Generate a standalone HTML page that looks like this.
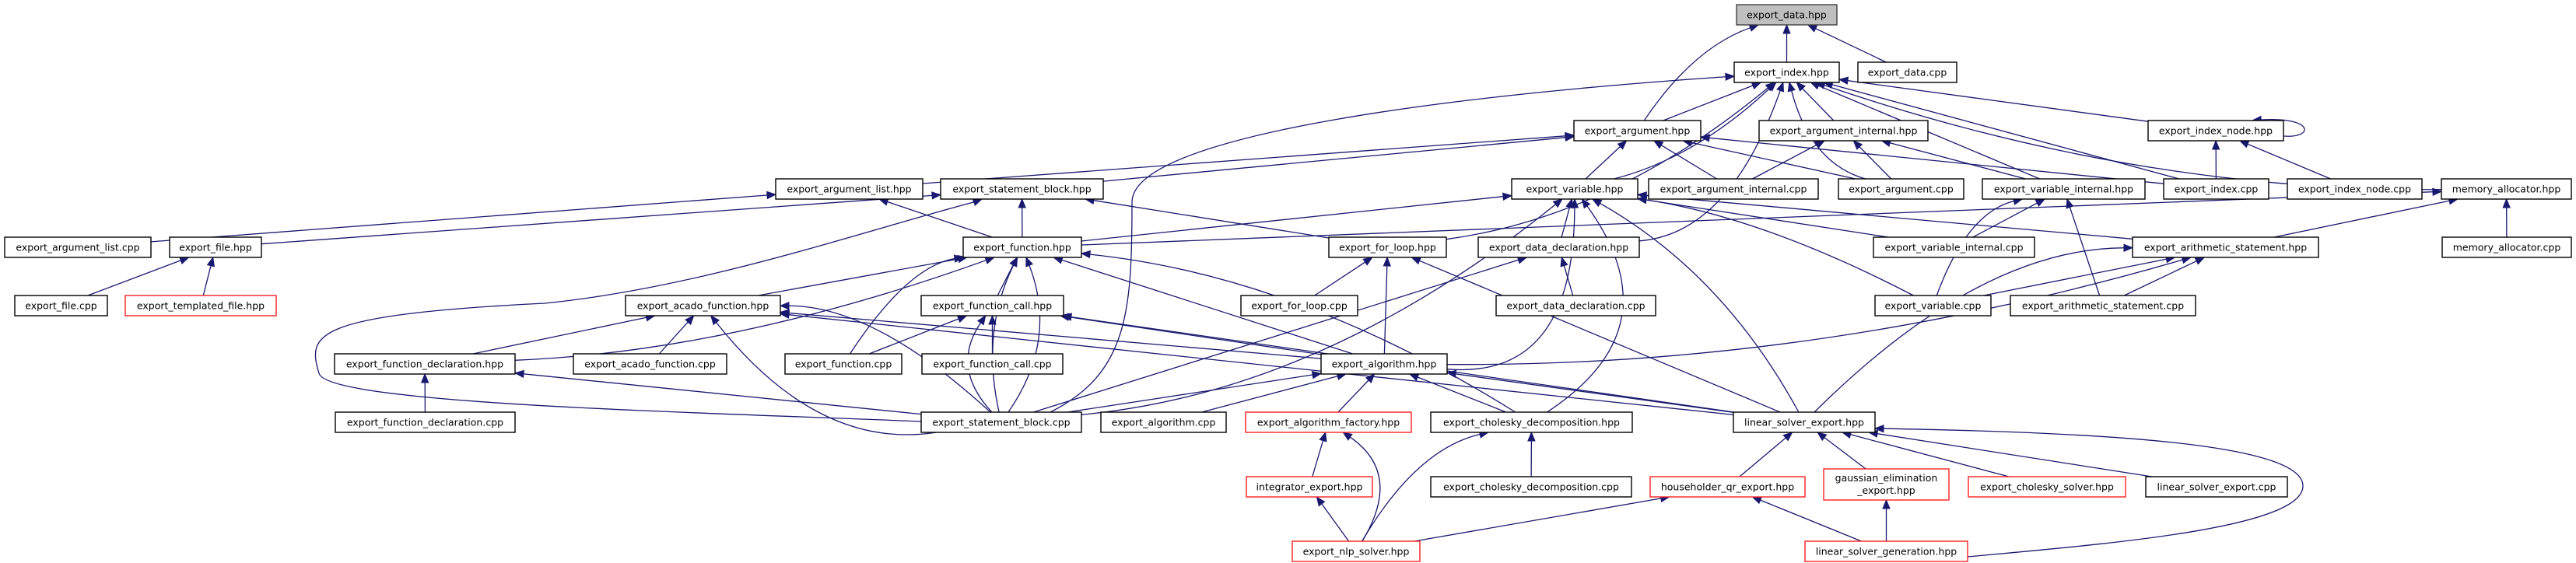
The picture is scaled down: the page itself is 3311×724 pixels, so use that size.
<!DOCTYPE html>
<html><head><meta charset="utf-8">
<style>
html,body{margin:0;padding:0;background:#fff;}
svg{display:block;}
text{font-family:"DejaVu Sans","Liberation Sans",sans-serif;font-size:12.5px;fill:#000;}
</style></head>
<body>
<svg id="s" xmlns="http://www.w3.org/2000/svg" width="3311" height="724" viewBox="0 0 3311 724">
<g id="edges" fill="none" stroke="#191970" stroke-width="1.3"></g>
<g id="heads" fill="#191970" stroke="#191970" stroke-width="1"></g>
<g id="nodes" stroke-width="1.4">
<rect id="data" x="2232" y="6" width="129" height="26" fill="#bfbfbf" stroke="#404040"/><text x="2296.5" y="23.5" text-anchor="middle">export_data.hpp</text>
<rect id="index" x="2229" y="80" width="135" height="26" fill="#fff" stroke="#000"/><text x="2296.5" y="97.5" text-anchor="middle">export_index.hpp</text>
<rect id="data_cpp" x="2388" y="80" width="127" height="26" fill="#fff" stroke="#000"/><text x="2451.5" y="97.5" text-anchor="middle">export_data.cpp</text>
<rect id="argument" x="2023" y="155" width="163" height="26" fill="#fff" stroke="#000"/><text x="2104.5" y="172.5" text-anchor="middle">export_argument.hpp</text>
<rect id="arg_int" x="2261" y="155" width="217" height="26" fill="#fff" stroke="#000"/><text x="2369.5" y="172.5" text-anchor="middle">export_argument_internal.hpp</text>
<rect id="index_node" x="2761" y="155" width="174" height="26" fill="#fff" stroke="#000"/><text x="2848" y="172.5" text-anchor="middle">export_index_node.hpp</text>
<rect id="arg_list" x="997" y="230" width="189" height="26" fill="#fff" stroke="#000"/><text x="1091.5" y="247.5" text-anchor="middle">export_argument_list.hpp</text>
<rect id="sb_hpp" x="1209" y="230" width="209" height="26" fill="#fff" stroke="#000"/><text x="1313.5" y="247.5" text-anchor="middle">export_statement_block.hpp</text>
<rect id="variable" x="1943" y="230" width="162" height="26" fill="#fff" stroke="#000"/><text x="2024" y="247.5" text-anchor="middle">export_variable.hpp</text>
<rect id="arg_int_cpp" x="2119" y="230" width="218" height="26" fill="#fff" stroke="#000"/><text x="2228" y="247.5" text-anchor="middle">export_argument_internal.cpp</text>
<rect id="argument_cpp" x="2363" y="230" width="161" height="26" fill="#fff" stroke="#000"/><text x="2443.5" y="247.5" text-anchor="middle">export_argument.cpp</text>
<rect id="var_int" x="2548" y="230" width="209" height="26" fill="#fff" stroke="#000"/><text x="2652.5" y="247.5" text-anchor="middle">export_variable_internal.hpp</text>
<rect id="index_cpp" x="2781" y="230" width="135" height="26" fill="#fff" stroke="#000"/><text x="2848.5" y="247.5" text-anchor="middle">export_index.cpp</text>
<rect id="index_node_cpp" x="2940" y="230" width="173" height="26" fill="#fff" stroke="#000"/><text x="3026.5" y="247.5" text-anchor="middle">export_index_node.cpp</text>
<rect id="mem" x="3138" y="230" width="167" height="26" fill="#fff" stroke="#000"/><text x="3221.5" y="247.5" text-anchor="middle">memory_allocator.hpp</text>
<rect id="arg_list_cpp" x="6" y="305" width="188" height="26" fill="#fff" stroke="#000"/><text x="100" y="322.5" text-anchor="middle">export_argument_list.cpp</text>
<rect id="file_hpp" x="218" y="305" width="118" height="26" fill="#fff" stroke="#000"/><text x="277" y="322.5" text-anchor="middle">export_file.hpp</text>
<rect id="function" x="1238" y="305" width="152" height="26" fill="#fff" stroke="#000"/><text x="1314" y="322.5" text-anchor="middle">export_function.hpp</text>
<rect id="for_loop" x="1708" y="305" width="151" height="26" fill="#fff" stroke="#000"/><text x="1783.5" y="322.5" text-anchor="middle">export_for_loop.hpp</text>
<rect id="data_decl" x="1900" y="305" width="207" height="26" fill="#fff" stroke="#000"/><text x="2003.5" y="322.5" text-anchor="middle">export_data_declaration.hpp</text>
<rect id="var_int_cpp" x="2408" y="305" width="207" height="26" fill="#fff" stroke="#000"/><text x="2511.5" y="322.5" text-anchor="middle">export_variable_internal.cpp</text>
<rect id="arith" x="2741" y="305" width="239" height="26" fill="#fff" stroke="#000"/><text x="2860.5" y="322.5" text-anchor="middle">export_arithmetic_statement.hpp</text>
<rect id="mem_cpp" x="3139" y="305" width="166" height="26" fill="#fff" stroke="#000"/><text x="3222" y="322.5" text-anchor="middle">memory_allocator.cpp</text>
<rect id="file_cpp" x="19" y="380" width="119" height="26" fill="#fff" stroke="#000"/><text x="78.5" y="397.5" text-anchor="middle">export_file.cpp</text>
<rect id="templated" x="161" y="380" width="194" height="26" fill="#fff" stroke="#ff2020"/><text x="258" y="397.5" text-anchor="middle">export_templated_file.hpp</text>
<rect id="acado" x="804" y="380" width="199" height="26" fill="#fff" stroke="#000"/><text x="903.5" y="397.5" text-anchor="middle">export_acado_function.hpp</text>
<rect id="fcall" x="1184" y="380" width="183" height="26" fill="#fff" stroke="#000"/><text x="1275.5" y="397.5" text-anchor="middle">export_function_call.hpp</text>
<rect id="for_cpp" x="1595" y="380" width="150" height="26" fill="#fff" stroke="#000"/><text x="1670" y="397.5" text-anchor="middle">export_for_loop.cpp</text>
<rect id="data_decl_cpp" x="1923" y="380" width="205" height="26" fill="#fff" stroke="#000"/><text x="2025.5" y="397.5" text-anchor="middle">export_data_declaration.cpp</text>
<rect id="var_cpp" x="2410" y="380" width="149" height="26" fill="#fff" stroke="#000"/><text x="2484.5" y="397.5" text-anchor="middle">export_variable.cpp</text>
<rect id="arith_cpp" x="2584" y="380" width="238" height="26" fill="#fff" stroke="#000"/><text x="2703" y="397.5" text-anchor="middle">export_arithmetic_statement.cpp</text>
<rect id="fdecl" x="430" y="455" width="232" height="26" fill="#fff" stroke="#000"/><text x="546" y="472.5" text-anchor="middle">export_function_declaration.hpp</text>
<rect id="acado_cpp" x="737" y="455" width="197" height="26" fill="#fff" stroke="#000"/><text x="835.5" y="472.5" text-anchor="middle">export_acado_function.cpp</text>
<rect id="function_cpp" x="1009" y="455" width="150" height="26" fill="#fff" stroke="#000"/><text x="1084" y="472.5" text-anchor="middle">export_function.cpp</text>
<rect id="fcall_cpp" x="1185" y="455" width="181" height="26" fill="#fff" stroke="#000"/><text x="1275.5" y="472.5" text-anchor="middle">export_function_call.cpp</text>
<rect id="algorithm" x="1698" y="455" width="162" height="26" fill="#fff" stroke="#000"/><text x="1779" y="472.5" text-anchor="middle">export_algorithm.hpp</text>
<rect id="fdecl_cpp" x="431" y="530" width="231" height="26" fill="#fff" stroke="#000"/><text x="546.5" y="547.5" text-anchor="middle">export_function_declaration.cpp</text>
<rect id="sb_cpp" x="1184" y="530" width="206" height="26" fill="#fff" stroke="#000"/><text x="1287" y="547.5" text-anchor="middle">export_statement_block.cpp</text>
<rect id="alg_cpp" x="1415" y="530" width="161" height="26" fill="#fff" stroke="#000"/><text x="1495.5" y="547.5" text-anchor="middle">export_algorithm.cpp</text>
<rect id="factory" x="1601" y="530" width="213" height="26" fill="#fff" stroke="#ff2020"/><text x="1707.5" y="547.5" text-anchor="middle">export_algorithm_factory.hpp</text>
<rect id="chol" x="1839" y="530" width="259" height="26" fill="#fff" stroke="#000"/><text x="1968.5" y="547.5" text-anchor="middle">export_cholesky_decomposition.hpp</text>
<rect id="ls" x="2228" y="530" width="182" height="26" fill="#fff" stroke="#000"/><text x="2319" y="547.5" text-anchor="middle">linear_solver_export.hpp</text>
<rect id="integrator" x="1602" y="613" width="162" height="26" fill="#fff" stroke="#ff2020"/><text x="1683" y="630.5" text-anchor="middle">integrator_export.hpp</text>
<rect id="chol_cpp" x="1839" y="613" width="258" height="26" fill="#fff" stroke="#000"/><text x="1968" y="630.5" text-anchor="middle">export_cholesky_decomposition.cpp</text>
<rect id="householder" x="2121" y="613" width="199" height="26" fill="#fff" stroke="#ff2020"/><text x="2220.5" y="630.5" text-anchor="middle">householder_qr_export.hpp</text>
<rect id="gauss" x="2344" y="603" width="161" height="40" fill="#fff" stroke="#ff2020"/><text x="2424.5" y="619" text-anchor="middle">gaussian_elimination</text><text x="2424.5" y="635" text-anchor="middle">_export.hpp</text>
<rect id="chol_solver" x="2530" y="613" width="202" height="26" fill="#fff" stroke="#ff2020"/><text x="2631" y="630.5" text-anchor="middle">export_cholesky_solver.hpp</text>
<rect id="ls_cpp" x="2758" y="613" width="182" height="26" fill="#fff" stroke="#000"/><text x="2849" y="630.5" text-anchor="middle">linear_solver_export.cpp</text>
<rect id="nlp" x="1661" y="696" width="164" height="26" fill="#fff" stroke="#ff2020"/><text x="1743" y="713.5" text-anchor="middle">export_nlp_solver.hpp</text>
<rect id="ls_gen" x="2320" y="696" width="209" height="26" fill="#fff" stroke="#ff2020"/><text x="2424.5" y="713.5" text-anchor="middle">linear_solver_generation.hpp</text>
</g>
</svg>
<script>
(function(){
var NS="http://www.w3.org/2000/svg";
var eg=document.getElementById('edges'),hg=document.getElementById('heads');
function box(id){var r=document.getElementById(id);return{x:+r.getAttribute('x'),y:+r.getAttribute('y'),w:+r.getAttribute('width'),h:+r.getAttribute('height')};}
function clip(b,cx,cy,tx,ty){var dx=tx-cx,dy=ty-cy;var t=1e9;
 if(dx!==0){t=Math.min(t,Math.abs((b.w/2)/dx));}
 if(dy!==0){t=Math.min(t,Math.abs((b.h/2)/dy));}
 return [cx+dx*t,cy+dy*t];}
function head(tip,from){
 var ux=tip[0]-from[0],uy=tip[1]-from[1],ul=Math.sqrt(ux*ux+uy*uy)||1;ux/=ul;uy/=ul;
 var hl=11,hw=4.5,bx=tip[0]-ux*hl,by=tip[1]-uy*hl;
 var h=document.createElementNS(NS,'polygon');
 h.setAttribute('points',tip[0].toFixed(1)+','+tip[1].toFixed(1)+' '+(bx-uy*hw).toFixed(1)+','+(by+ux*hw).toFixed(1)+' '+(bx+uy*hw).toFixed(1)+','+(by-ux*hw).toFixed(1));
 hg.appendChild(h);return [bx,by];}
function path(d){var p=document.createElementNS(NS,'path');p.setAttribute('d',d);eg.appendChild(p);}
var E=[
["index","data"],["data_cpp","data"],["argument","data",-20],
["argument","index"],["arg_int","index"],["variable","index",20],["index_node","index"],["index_cpp","index"],["mem","index",-40],["argument_cpp","index",-30],["var_int","index"],["for_loop","index",40],["data_decl","index",60],
["arg_list","argument"],["sb_hpp","argument"],["variable","argument"],["arg_int_cpp","argument"],["argument_cpp","argument"],["index_cpp","argument"],
["arg_int_cpp","arg_int"],["argument_cpp","arg_int"],["var_int","arg_int"],
["index_cpp","index_node"],["index_node_cpp","index_node"],
["mem_cpp","mem"],["arith","mem"],["function","mem"],
["arg_list_cpp","arg_list"],["function","arg_list"],["file_hpp","sb_hpp"],
["function","sb_hpp"],["for_loop","sb_hpp"],
["file_cpp","file_hpp"],["templated","file_hpp"],
["function","variable"],["data_decl","variable"],["arith","variable"],["var_int_cpp","variable"],["var_cpp","variable",20],["ls","variable",30],["chol","variable",80],["algorithm","variable",90],["sb_cpp","variable",60],
["var_int_cpp","var_int"],["var_cpp","var_int",-30],["arith_cpp","var_int"],
["var_cpp","arith"],["arith_cpp","arith"],["algorithm","arith",40],["ls","arith",-60],
["acado","function"],["fdecl","function",30],["fcall","function"],["function_cpp","function",-30],["sb_cpp","function",30],["sb_cpp","function",-20],["algorithm","function"],["chol","function",40],
["for_cpp","for_loop"],["algorithm","for_loop"],["ls","for_loop"],
["data_decl_cpp","data_decl"],["sb_cpp","data_decl"],
["fcall_cpp","fcall"],["function_cpp","fcall"],["sb_cpp","fcall",-30],["algorithm","fcall"],["ls","fcall"],
["fdecl","acado"],["acado_cpp","acado"],["sb_cpp","acado",40],["sb_cpp","acado",-60],["algorithm","acado"],["ls","acado"],
["fdecl_cpp","fdecl"],["sb_cpp","fdecl"],
["sb_cpp","algorithm"],["alg_cpp","algorithm"],["factory","algorithm"],["chol","algorithm"],["ls","algorithm"],
["integrator","factory"],["nlp","factory",40],["nlp","integrator"],["nlp","chol",-30],["chol_cpp","chol"],["nlp","householder"],
["householder","ls"],["gauss","ls"],["chol_solver","ls"],["ls_cpp","ls"],
["ls_gen","gauss"],["ls_gen","householder"]
];
E.forEach(function(e){
 var a=box(e[0]),b=box(e[1]),bend=e[2]||0;
 var ac=[a.x+a.w/2,a.y+a.h/2],bc=[b.x+b.w/2,b.y+b.h/2];
 var mx=(ac[0]+bc[0])/2,my=(ac[1]+bc[1])/2;
 var dx=bc[0]-ac[0],dy=bc[1]-ac[1],L=Math.sqrt(dx*dx+dy*dy)||1;
 var cx=mx+(-dy/L)*bend*2,cy=my+(dx/L)*bend*2;
 var p0=clip(a,ac[0],ac[1],cx,cy),p1=clip(b,bc[0],bc[1],cx,cy);
 var bb=head(p1,[cx,cy]);
 path('M'+p0[0].toFixed(1)+','+p0[1].toFixed(1)+' Q'+cx.toFixed(1)+','+cy.toFixed(1)+' '+bb[0].toFixed(1)+','+bb[1].toFixed(1));
});
/* custom curves */
var bb;
/* linear_solver_generation -> linear_solver_export (right loop) */
bb=head([2410,551],[2470,552]);
path('M2529,716 C2700,700 2960,680 2960,625 C2960,570 2700,556 '+bb[0]+','+bb[1]);
/* statement_block.cpp -> statement_block.hpp (left loop) */
bb=head([1262,256],[1230,268]);
path('M1184,542 C900,530 420,520 410,480 C395,430 400,405 700,390 C900,370 1100,300 '+bb[0]+','+bb[1]);
/* statement_block.cpp -> export_index.hpp */
bb=head([2229,98],[2200,100]);
path('M1350,530 C1450,480 1455,400 1455,260 C1455,170 1900,120 '+bb[0]+','+bb[1]);
/* self loop */
path('M2935,175 C2975,178 2975,150 2906,154');
var sh=document.createElementNS(NS,'polygon');sh.setAttribute('points','2895,155 2906,149.5 2906,159');hg.appendChild(sh);
})();
</script>
</body></html>
